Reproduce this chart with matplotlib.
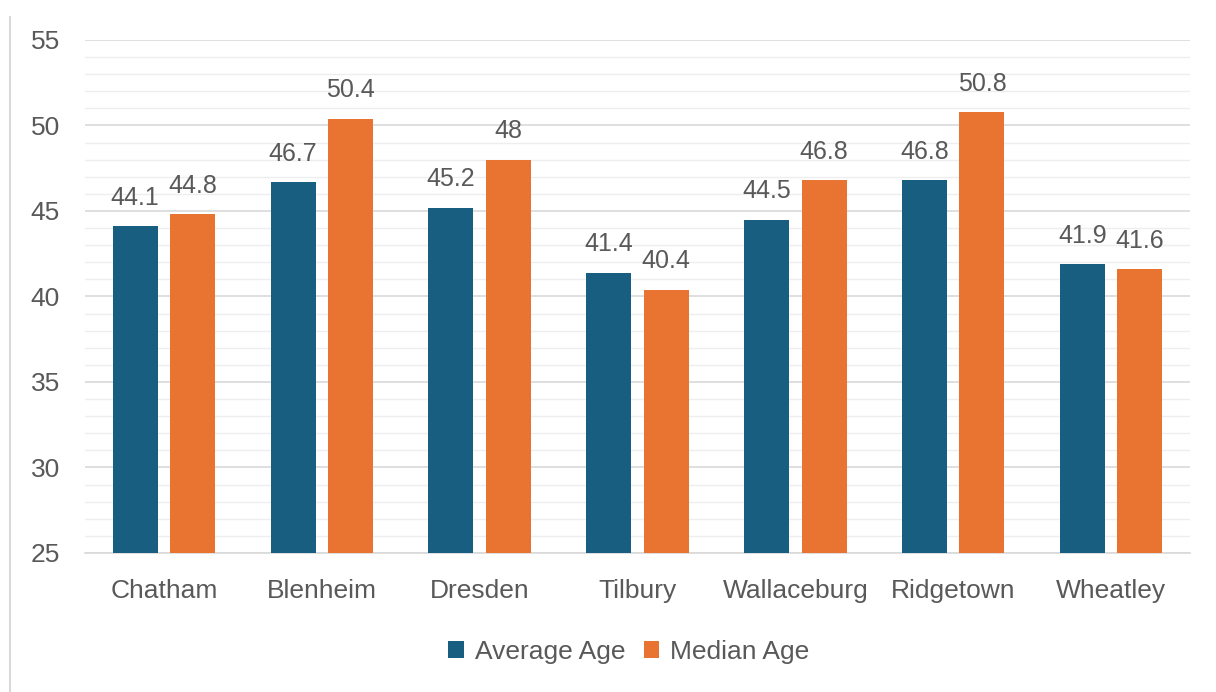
import numpy as np
import matplotlib.pyplot as plt
from matplotlib.ticker import MultipleLocator
from matplotlib.lines import Line2D

towns = ["Chatham", "Blenheim", "Dresden", "Tilbury", "Wallaceburg", "Ridgetown", "Wheatley"]
average_age = [44.1, 46.7, 45.2, 41.4, 44.5, 46.8, 41.9]
median_age = [44.8, 50.4, 48, 40.4, 46.8, 50.8, 41.6]

blue = "#175e81"
orange = "#e97331"
grey = "#595959"

plt.rcParams["font.family"] = ["Liberation Sans", "DejaVu Sans"]

fig = plt.figure(figsize=(12.16, 6.92), dpi=100)
ax = fig.add_axes([0.0699, 0.2009, 0.9087, 0.7413])

x = np.arange(len(towns))
off = 0.182
w = 0.285
b1 = ax.bar(x - off, average_age, w, color=blue, label="Average Age", zorder=3)
b2 = ax.bar(x + off, median_age, w, color=orange, label="Median Age", zorder=3)

for bars, vals in ((b1, average_age), (b2, median_age)):
    for r, v in zip(bars, vals):
        ax.text(r.get_x() + r.get_width() / 2, v + 0.95, f"{v:g}",
                ha="center", va="bottom", fontsize=18, color=grey)

ax.set_xlim(-0.5, len(towns) - 0.5)
ax.set_ylim(25, 55)
ax.yaxis.set_major_locator(MultipleLocator(5))
ax.yaxis.set_minor_locator(MultipleLocator(1))
ax.grid(axis="y", which="major", color="#d9d9d9", lw=1.2, zorder=0)
ax.grid(axis="y", which="minor", color="#eeeeee", lw=1.0, zorder=0)
ax.set_xticks(x)
ax.set_xticklabels(towns)
ax.tick_params(axis="both", which="both", length=0, labelsize=19, colors=grey)
ax.tick_params(axis="x", pad=19)
ax.tick_params(axis="y", pad=18)
for s in ("top", "right", "left"):
    ax.spines[s].set_visible(False)
ax.spines["bottom"].set_color("#d9d9d9")
ax.spines["bottom"].set_linewidth(1.2)

fig.legend(loc="center", bbox_to_anchor=(0.517, 0.058), ncol=2, frameon=False,
           fontsize=19, handlelength=0.6, handleheight=0.6, handletextpad=0.4,
           columnspacing=0.7, labelcolor=grey)

# thin frame line on the left edge
fig.add_artist(Line2D([0.0082, 0.0082], [0, 0.975], transform=fig.transFigure,
                      color="#d9d9d9", lw=1.5))

fig.savefig("out.png", dpi=100)
